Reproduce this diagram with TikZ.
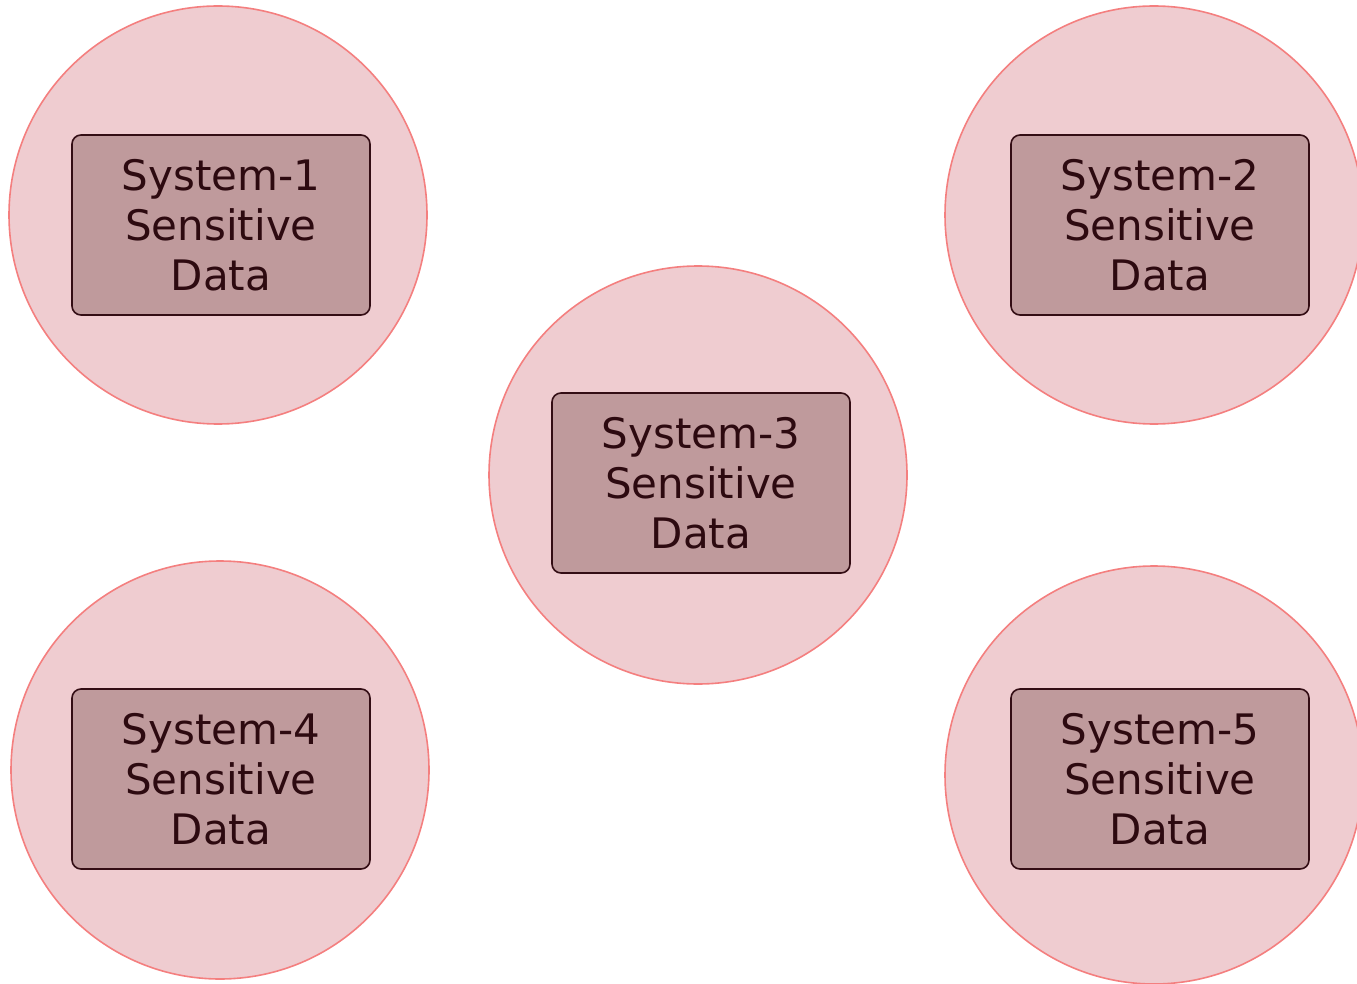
\documentclass[tikz,border=0pt]{standalone}
\usepackage{fontspec}
\setmainfont{DejaVu Sans}
\definecolor{circfill}{HTML}{EFCCD0}
\definecolor{circline}{HTML}{F47F7F}
\definecolor{boxfill}{HTML}{BF9A9C}
\definecolor{boxline}{HTML}{330D14}
\definecolor{txt}{HTML}{2D0A10}
\begin{document}
\begin{tikzpicture}[x=1pt,y=-1pt,
  zone/.style={circle,draw=circline,fill=circfill,line width=1.6pt,minimum size=418pt,inner sep=0pt},
  databox/.style={rectangle,rounded corners=9pt,draw=boxline,fill=boxfill,line width=1.6pt,
    minimum width=298pt,minimum height=180pt,inner sep=0pt,align=center,text=txt,
    font=\fontsize{42}{50}\selectfont}]
\useasboundingbox (0,0) rectangle (1357,984);
\clip (0,0) rectangle (1357,984);
\node[zone] (c1) at (218,215) {};
\node[zone] (c2) at (1154,215) {};
\node[zone] (c3) at (698,475) {};
\node[zone] (c4) at (220,770) {};
\node[zone] (c5) at (1154,775) {};
\node[databox] (b1) at (221,225) {System-1\\Sensitive\\Data};
\node[databox] (b2) at (1160,225) {System-2\\Sensitive\\Data};
\node[databox] (b3) at (701,483) {System-3\\Sensitive\\Data};
\node[databox] (b4) at (221,779) {System-4\\Sensitive\\Data};
\node[databox] (b5) at (1160,779) {System-5\\Sensitive\\Data};
\end{tikzpicture}
\end{document}
